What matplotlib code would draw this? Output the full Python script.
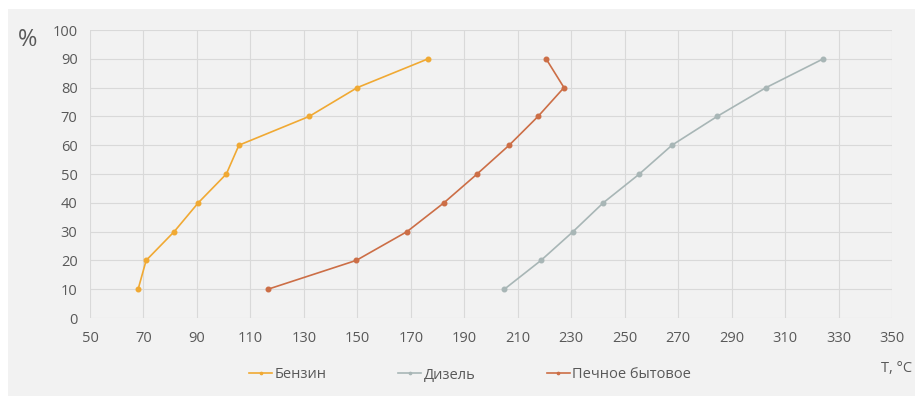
import matplotlib
matplotlib.use("Agg")
import matplotlib.pyplot as plt
from matplotlib.patches import Rectangle

plt.rcParams['font.family'] = ['Open Sans', 'DejaVu Sans']

pct = [10, 20, 30, 40, 50, 60, 70, 80, 90]
benzin = [68, 71, 81.5, 90.5, 101, 105.7, 132, 150, 176.5]
dizel = [205, 218.7, 230.7, 242, 255.5, 267.7, 284.6, 302.9, 324.3]
pechnoe = [116.6, 149.6, 168.6, 182.4, 194.8, 206.8, 217.6, 227.3, 220.6]
series_names = ["Бензин", "Дизель", "Печное бытовое"]
xticks = list(range(50, 351, 20))
yticks = list(range(0, 101, 10))

bg = "#f2f2f2"
txt = "#595959"
grid = "#d9d9d9"

fig = plt.figure(figsize=(9.15, 3.96), dpi=100)
fig.patch.set_facecolor("white")
fig.patches.append(Rectangle((8/915, 0), 1 - 8/915, 1 - 9/396, transform=fig.transFigure,
                             facecolor=bg, edgecolor="none", zorder=-10))
ax = fig.add_axes([90/915, 1 - 318/396, (892 - 90)/915, (318 - 30)/396])
ax.set_facecolor(bg)

ax.plot(benzin, pct, color="#f0a933", lw=1.2, marker="o", ms=3.3, label=series_names[0])
ax.plot(dizel, pct, color="#a8b6b6", lw=1.2, marker="o", ms=3.3, label=series_names[1])
ax.plot(pechnoe, pct, color="#cc6e46", lw=1.2, marker="o", ms=3.3, label=series_names[2])

ax.set_xlim(50, 350)
ax.set_ylim(0, 100)
ax.set_xticks(xticks)
ax.set_yticks(yticks)
ax.grid(True, color=grid, lw=0.8)
ax.set_axisbelow(True)
for s in ax.spines.values():
    s.set_visible(False)
ax.tick_params(length=0, labelsize=10.5, colors=txt, pad=9)

fig.text(28/915, 1 - 40/396, "%", fontsize=17, color=txt, ha="center", va="center")
fig.text(881/915, 1 - 369/396, "T, °C", fontsize=10.5, color=txt, ha="left", va="center")

leg = fig.legend(loc="center", bbox_to_anchor=(470/915, 1 - 375/396), ncol=3, frameon=False,
                 fontsize=10.5, handlelength=1.6, columnspacing=4.9, handletextpad=0.15,
                 markerscale=0.5)
for t in leg.get_texts():
    t.set_color(txt)

fig.savefig("out.png", dpi=100, facecolor=fig.get_facecolor())
